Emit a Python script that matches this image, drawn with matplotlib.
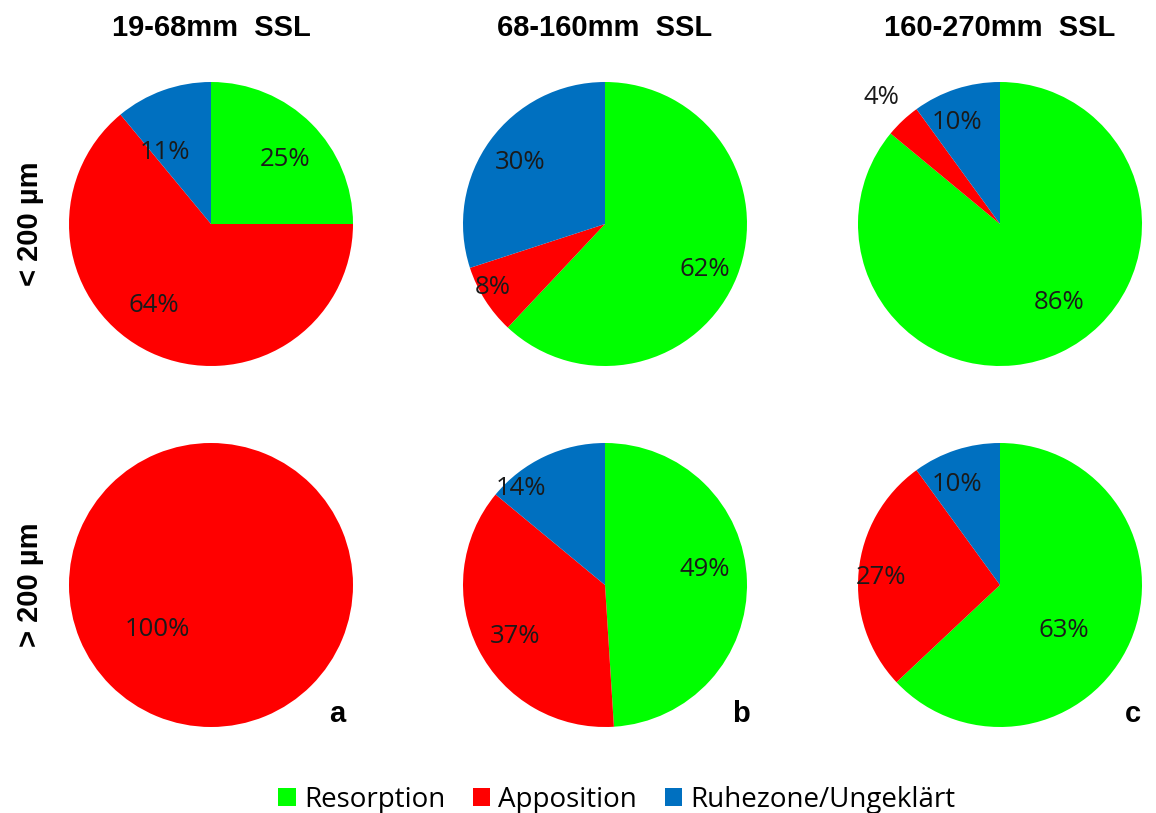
import numpy as np
import matplotlib
matplotlib.use("Agg")
import matplotlib.pyplot as plt
from matplotlib.patches import Patch

# Categories and colours
categories = ["Resorption", "Apposition", "Ruhezone/Ungeklärt"]
colors = ["#00FF00", "#FF0000", "#0070C0"]

# Size classes (columns) and pore sizes (rows)
col_titles = ["19-68mm  SSL", "68-160mm  SSL", "160-270mm  SSL"]
row_titles = ["< 200 µm", "> 200 µm"]
panel_letters = ["a", "b", "c"]

# Shares in percent: [Resorption, Apposition, Ruhezone/Ungeklärt]
small_19_68 = [25, 64, 11]
small_68_160 = [62, 8, 30]
small_160_270 = [86, 4, 10]
large_19_68 = [0, 100, 0]
large_68_160 = [49, 37, 14]
large_160_270 = [63, 27, 10]

values = [[small_19_68, small_68_160, small_160_270],
          [large_19_68, large_68_160, large_160_270]]

# Label placement (radial fraction, angle shift in degrees) per wedge
label_layout = [
    [[(0.69, -4), (0.70, -10), (0.60, 13)],
     [(0.77, -3), (0.91, -3), (0.74, 0)],
     [(0.69, 12), (1.22, 0), (0.78, 5)]],
    [[None, (0.49, -50), None],
     [(0.71, 7), (0.73, 3), (0.90, 16)],
     [(0.55, -12), (0.84, 2), (0.77, 5)]],
]

W, H = 1156, 813
fig = plt.figure(figsize=(W / 100, H / 100), dpi=100)

col_cx = [211, 605, 1000]
row_cy = [224, 585]
R = 142

pct_font = dict(family=["Open Sans", "DejaVu Sans"], fontsize=18.5, color="#1a1a1a")
bold_font = dict(family=["Liberation Sans", "DejaVu Sans"], fontweight="bold")

for ri in range(2):
    for ci in range(3):
        cx, cy = col_cx[ci], row_cy[ri]
        ax = fig.add_axes([(cx - R) / W, 1 - (cy + R) / H, 2 * R / W, 2 * R / H])
        vals = values[ri][ci]
        wedges, _ = ax.pie(vals, colors=colors, startangle=90, counterclock=False,
                           radius=1.0, wedgeprops=dict(linewidth=0))
        ax.set_xlim(-1.0, 1.0)
        ax.set_ylim(-1.0, 1.0)
        ax.set_aspect("equal")
        ax.axis("off")
        for k, w in enumerate(wedges):
            if vals[k] == 0:
                continue
            frac, shift = label_layout[ri][ci][k]
            mid = np.deg2rad((w.theta1 + w.theta2) / 2 + shift)
            ax.text(frac * np.cos(mid), frac * np.sin(mid), f"{vals[k]}%",
                    ha="center", va="center", clip_on=False, **pct_font)

# Column titles
for ci, t in enumerate(col_titles):
    fig.text(col_cx[ci] / W, 1 - 28 / H, t, ha="center", va="center",
             fontsize=21, **bold_font)

# Row titles
for ri, t in enumerate(row_titles):
    fig.text(30 / W, 1 - row_cy[ri] / H, t, ha="center", va="center",
             rotation=90, fontsize=21, **bold_font)

# Panel letters
letter_x = [337, 741, 1133]
for ci, t in enumerate(panel_letters):
    fig.text(letter_x[ci] / W, 1 - 714 / H, t, ha="center", va="center",
             fontsize=21, **bold_font)

handles = [Patch(facecolor=c, edgecolor="none", label=l) for c, l in zip(colors, categories)]
fig.legend(handles=handles, loc="center", bbox_to_anchor=(617 / W, 1 - 800 / H),
           ncol=3, frameon=False, handlelength=0.62, handleheight=0.62,
           handletextpad=0.3, columnspacing=1.0,
           prop=dict(family=["Open Sans", "DejaVu Sans"], size=20))

fig.savefig("out.png", dpi=100, facecolor="white")
